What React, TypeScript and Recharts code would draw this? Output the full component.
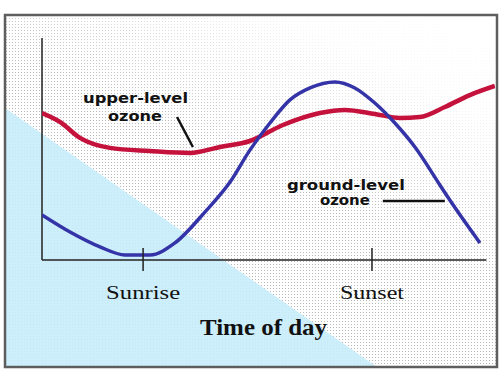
import { LineChart, Line, XAxis, YAxis, ReferenceLine, ReferenceDot } from 'recharts';

// hours of the day vs relative ozone level (0-100)
const upperHours = [0.7, 1.64, 2.69, 4.26, 6.36, 8.46, 10.03, 11.6, 13.33, 15.27, 16.58, 18.15, 19.46, 20.51, 21.82, 23.13, 24.44];
const upperLevel = [66.2, 62.2, 55.0, 50.5, 49.1, 48.2, 50.9, 53.6, 60.8, 66.2, 67.6, 65.8, 64.0, 64.4, 68.9, 74.3, 78.4];
const groundHours = [0.7, 2.17, 3.74, 5.05, 6.36, 7.67, 9.24, 10.55, 11.6, 12.65, 13.7, 14.75, 16.06, 17.1, 18.15, 19.2, 20.25, 21.56, 22.08, 23.66];
const groundLevel = [20.3, 12.6, 5.9, 2.3, 2.3, 7.7, 21.6, 35.0, 49.5, 61.7, 72.1, 77.5, 80.2, 77.5, 70.7, 61.7, 50.9, 33.8, 27.0, 7.7];

const tickHours = [6, 18];
const tickLabels = ['Sunrise', 'Sunset'];
const tickWidths = [74, 64];

const upper = upperHours.map((h, i) => ({ h, v: upperLevel[i] }));
const ground = groundHours.map((h, i) => ({ h, v: groundLevel[i] }));

const noteFont = { fontFamily: '"DejaVu Sans", Verdana, sans-serif', fontWeight: 700, fontSize: 14, fill: '#111' };

function note(text: string, len: number) {
  return {
    content: (p: any) => (
      <text x={p.viewBox.x} y={p.viewBox.y} {...noteFont} textLength={len} lengthAdjust="spacingAndGlyphs">
        {text}
      </text>
    ),
  };
}

function Tick({ x, y, payload }: any) {
  const i = tickHours.indexOf(payload.value);
  return (
    <g>
      <line x1={x} x2={x} y1={y - 12} y2={y + 11} stroke="#222" strokeWidth={1.5} />
      <text
        x={x}
        y={y + 39}
        textAnchor="middle"
        fontFamily='"Liberation Serif", "Times New Roman", serif'
        fontSize={19}
        fill="#111"
        textLength={tickWidths[i]}
        lengthAdjust="spacingAndGlyphs"
      >
        {tickLabels[i]}
      </text>
    </g>
  );
}

function Background() {
  return (
    <svg width={500} height={375} style={{ position: 'absolute', left: 0, top: 0 }}>
      <defs>
        <pattern id="dots" width="3" height="3" patternUnits="userSpaceOnUse">
          <rect width="1" height="1" fill="#b8b8b8" />
        </pattern>
        <linearGradient id="fade" x1="0.35" y1="1" x2="1" y2="0">
          <stop offset="0.45" stopColor="#fff" stopOpacity={0} />
          <stop offset="0.8" stopColor="#fff" stopOpacity={0.9} />
          <stop offset="1" stopColor="#fff" stopOpacity={1} />
        </linearGradient>
      </defs>
      <rect x={0} y={0} width={500} height={375} fill="#fff" />
      <rect x={5} y={15} width={492} height={352} fill="url(#dots)" />
      <rect x={5} y={15} width={492} height={352} fill="url(#fade)" />
      <polygon points="5,108 377,367 5,367" fill="#c6ecfb" opacity={0.88} />
      <rect x={5} y={15} width={492} height={352} fill="none" stroke="#5e5e5e" strokeWidth={2.5} />
    </svg>
  );
}

export default function App() {
  return (
    <div style={{ position: 'absolute', left: 0, top: 0, width: 500, height: 375 }}>
      <Background />
      <div style={{ position: 'absolute', left: 0, top: 0 }}>
        <LineChart width={500} height={375} margin={{ top: 38, right: 5, left: 42, bottom: 85 }}>
          <XAxis
            dataKey="h"
            type="number"
            domain={[0.7, 24.45]}
            allowDataOverflow
            ticks={tickHours}
            axisLine={false}
            tickLine={false}
            tickSize={0}
            tickMargin={0}
            height={30}
            tick={<Tick />}
            label={{
              content: (p: any) => (
                <text
                  x={p.viewBox.x + p.viewBox.width / 2 - 5}
                  y={p.viewBox.y + 75}
                  textAnchor="middle"
                  fontFamily='"Liberation Serif", "Times New Roman", serif'
                  fontWeight={700}
                  fontSize={24}
                  fill="#111"
                  textLength={127}
                  lengthAdjust="spacingAndGlyphs"
                >
                  Time of day
                </text>
              ),
            }}
          />
          <YAxis type="number" domain={[0, 100]} width={0} tick={false} tickLine={false} axisLine={false} />
          <ReferenceLine segment={[{ x: 0.7, y: 0 }, { x: 0.7, y: 100 }]} stroke="#222" strokeWidth={1.5} />
          <ReferenceLine segment={[{ x: 0.7, y: 0 }, { x: 24, y: 0 }]} stroke="#222" strokeWidth={1.5} />
          <ReferenceLine segment={[{ x: 7.78, y: 64.4 }, { x: 8.61, y: 50.9 }]} stroke="#111" strokeWidth={2.5} />
          <ReferenceLine segment={[{ x: 18.57, y: 26.6 }, { x: 21.82, y: 26.6 }]} stroke="#111" strokeWidth={2.5} />
          <Line data={upper} dataKey="v" type="monotone" stroke="#c4123c" strokeWidth={4.5} dot={false} isAnimationActive={false} />
          <Line data={ground} dataKey="v" type="monotone" stroke="#3434a8" strokeWidth={3.5} dot={false} isAnimationActive={false} />
          <ReferenceDot x={2.85} y={70.7} r={0} fill="none" stroke="none" label={note('upper-level', 105)} />
          <ReferenceDot x={4.16} y={62.6} r={0} fill="none" stroke="none" label={note('ozone', 54)} />
          <ReferenceDot x={13.54} y={31.5} r={0} fill="none" stroke="none" label={note('ground-level', 118)} />
          <ReferenceDot x={15.27} y={24.8} r={0} fill="none" stroke="none" label={note('ozone', 50)} />
        </LineChart>
      </div>
    </div>
  );
}
